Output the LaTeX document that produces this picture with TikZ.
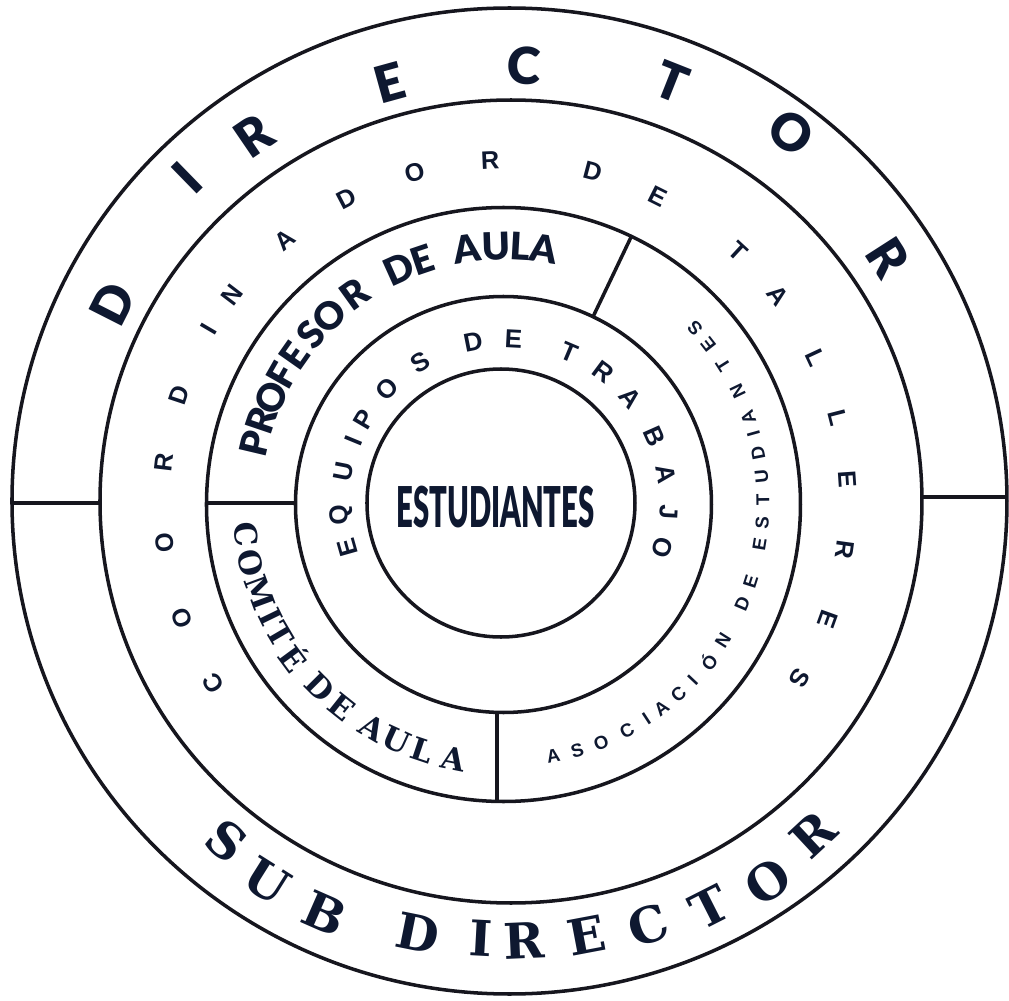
\documentclass[tikz,border=0pt]{standalone}
\usepackage{fontspec}
\usepackage{graphicx}
\usetikzlibrary{calc}
\newfontfamily\sansheavy{Lato Black}
\newfontfamily\sansbold{Liberation Sans Bold}
\newfontfamily\serifheavy{DejaVu Serif Bold}
\definecolor{ink}{RGB}{14,24,48}
\definecolor{rule}{RGB}{22,22,30}

\begin{document}
\begin{tikzpicture}[
    ring/.style={draw=rule, line width=1pt},
    divider/.style={draw=rule, line width=1pt},
    letter/.style={text=ink, inner sep=0pt, anchor=center},
    bigsans/.style={letter, font=\sansheavy\fontsize{14.5}{14.5}\selectfont},
    bigserif/.style={letter, font=\serifheavy\fontsize{14}{14}\selectfont},
    coordsans/.style={letter, font=\sansbold\fontsize{7.2}{7.2}\selectfont},
    profsans/.style={letter, font=\sansheavy\fontsize{10.8}{10.8}\selectfont},
    teamsans/.style={letter, font=\sansbold\fontsize{7.4}{7.4}\selectfont},
    comiteserif/.style={letter, font=\serifheavy\fontsize{8.8}{8.8}\selectfont},
    assocsans/.style={letter, font=\sansbold\fontsize{5.3}{5.3}\selectfont},
    centertext/.style={letter, font=\sansheavy\fontsize{16}{16}\selectfont},
]
\useasboundingbox (-5.05,-4.98) rectangle (5.04,5.03);

% ── Rings ──
\coordinate (outer) at (0.045,0.02);
\coordinate (middle) at (0.06,0.015);
\coordinate (inner) at (-0.015,-0.015);
\coordinate (core) at (-0.04,0);

\draw[ring] (outer) ellipse [x radius=4.975, y radius=4.93];
\draw[ring] (middle) ellipse [x radius=4.11, y radius=4.015];
\draw[ring] (inner) circle [radius=2.97];
\draw[ring] (inner) circle [radius=2.08];
\draw[ring] (core) circle [radius=1.34];

% ── Dividers ──
\draw[divider] (-4.05,0) -- (-4.93,0);
\draw[divider] (4.17,0.06) -- (5.02,0.06);
\draw[divider] (-2.095,0) -- (-2.985,0);
\draw[divider] ($(inner)+(64.5:2.08)$) -- ($(inner)+(64.5:2.97)$);
\draw[divider] (-0.08,-2.094) -- (-0.08,-2.984);

% ── Outer ring ──
\foreach \ch/\a/\r [count=\i] in {D/153.1/4.40, I/134.3/4.55, R/124.3/4.45, E/105.4/4.36,
    C/87.5/4.38, T/68.4/4.53, O/52.3/4.68, R/32.7/4.55}
  \node[bigsans, rotate=\a-90] (dir\i) at (\a:\r) {\ch};
\foreach \ch/\a/\r [count=\i] in {S/230.6/4.38, U/237.8/4.47, B/246.3/4.48, D/258.6/4.39,
    I/266.9/4.36, R/272.5/4.38, E/280.7/4.40, C/288.8/4.46, T/296.9/4.53, O/304.8/4.61, R/312.9/4.53}
  \node[bigserif, rotate=\a+90] (sub\i) at (\a:\r) {\ch};

% ── Second ring ──
\foreach \ch/\a [count=\i] in {C/211.8, O/199.6, O/186.6, R/173.2, D/161.6, I/149.6, N/142.7,
    A/129.9, D/117.5, O/105.3, R/92.5, D/75.2, E/63.5, T/47.3, A/37.2, L/25, L/14.3,
    E/3.9, R/-7.9, E/-19.8, S/-30.8}
  \node[coordsans, rotate=\a-90] (coord\i) at (\a:3.43) {\ch};

% ── Third ring ──
\foreach \ch/\a [count=\i] in {P/166.7, R/161.3, O/155.7, F/150.3, E/144.9, S/139, O/133.2,
    R/125.7, D/114.3, E/108.7, A/98.6, U/91.9, L/86.7, A/81.4}
  \node[profsans, rotate=\a-90] (prof\i) at (\a:2.57) {\ch};
\foreach \ch/\a [count=\i] in {C/186.8, O/193.3, M/200.2, I/206, T/210.4, É/216.4,
    D/224.8, E/231.4, A/239.6, U/245.3, L/251.5, A/258.6}
  \node[comiteserif, rotate=\a+90] (comite\i) at (\a:2.61) {\ch};
\foreach \ch/\a [count=\i] in {A/-79.2, S/-73.7, O/-68.1, C/-61.8, I/-56.7, A/-52.6, C/-47.7,
    I/-43.3, Ó/-38, N/-32.3, D/-23.1, E/-17.7, E/-9.3, S/-4.4, T/0.7, U/5.9, D/11.2,
    I/15.6, A/19.4, N/25.6, T/32.3, E/38, S/42.6}
  \node[assocsans, rotate=\a+90] (assoc\i) at (\a:2.58) {\ch};

% ── Fourth ring ──
\foreach \ch/\a [count=\i] in {E/195.8, Q/184, U/168.9, I/157.6, P/149.4, O/135.9, S/121.1,
    D/101.2, E/87, T/67.1, R/53.3, A/39.9, B/24, A/10.1, J/-3.1, O/-15.8}
  \node[teamsans, rotate=\a-90] (team\i) at (\a:1.64) {\ch};

% ── Centre ──
\node[centertext] (students) at (-0.095,-0.045) {\scalebox{0.52}[1]{ESTUDIANTES}};

\end{tikzpicture}
\end{document}
